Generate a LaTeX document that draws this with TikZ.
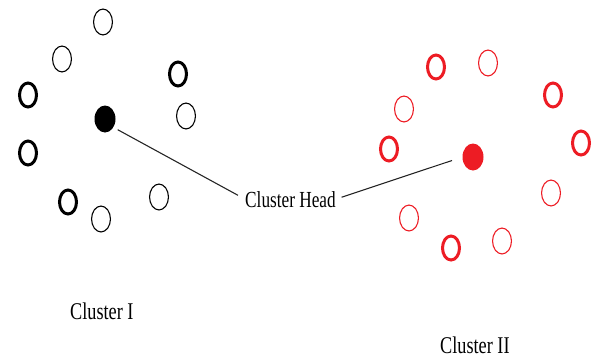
\documentclass[tikz,border=0pt]{standalone}
\usepackage{fontspec}
\usepackage{graphicx}
\setmainfont{Liberation Serif}
\usetikzlibrary{shapes.geometric}
\definecolor{pred}{RGB}{237,28,36}
\begin{document}
\begin{tikzpicture}[x=1pt,y=-1pt,
  dotshape/.style={ellipse,inner sep=0pt,outer sep=0pt},
  ring/.style={dotshape,draw,line width=1.1pt,minimum width=18.9pt,minimum height=25.9pt},
  boldring/.style={dotshape,draw,line width=3pt,minimum width=17pt,minimum height=24pt},
  headdot/.style={dotshape,minimum width=21pt,minimum height=27pt},
  lbl/.style={inner sep=0pt,anchor=base west,font=\fontsize{24}{28}\selectfont},
  hlbl/.style={inner sep=0pt,anchor=base west,font=\fontsize{23}{27}\selectfont},
  link/.style={draw=black!85,line width=1.1pt}
]
\useasboundingbox (0,0) rectangle (601,357);
% Cluster I (black)
\node[ring] (a1) at (103,22) {};
\node[ring] (a2) at (62,59) {};
\node[ring] (a3) at (186,116) {};
\node[ring] (a4) at (159,197) {};
\node[ring] (a5) at (101,219) {};
\node[boldring] (a6) at (28,95) {};
\node[boldring] (a7) at (178,74) {};
\node[boldring] (a8) at (28,153) {};
\node[boldring] (a9) at (68,202) {};
\node[headdot,fill=black] (h1) at (105,119) {};
% Cluster II (red)
\node[boldring,draw=pred] (b1) at (436,67) {};
\node[boldring,draw=pred] (b2) at (553,95) {};
\node[boldring,draw=pred] (b3) at (389,149) {};
\node[boldring,draw=pred] (b4) at (581,143) {};
\node[boldring,draw=pred] (b5) at (451,248) {};
\node[ring,draw=pred] (b6) at (488,63) {};
\node[ring,draw=pred] (b7) at (404,109) {};
\node[ring,draw=pred] (b8) at (551,193) {};
\node[ring,draw=pred] (b9) at (409,218) {};
\node[ring,draw=pred] (b10) at (502,241) {};
\node[headdot,fill=pred] (h2) at (473,157) {};
% Labels
\node[hlbl] (head) at (245,207) {\scalebox{0.75}[1]{Cluster Head}};
\node[lbl] (c1) at (70,319) {\scalebox{0.76}[1]{Cluster I}};
\node[lbl] (c2) at (440,353) {\scalebox{0.76}[1]{Cluster II}};
% Connectors
\draw[link,shorten <=5pt,shorten >=8pt] (h1.-45) -- (head.west);
\draw[link,shorten <=6pt,shorten >=11pt] (head.east) -- (h2.west);
\end{tikzpicture}
\end{document}
